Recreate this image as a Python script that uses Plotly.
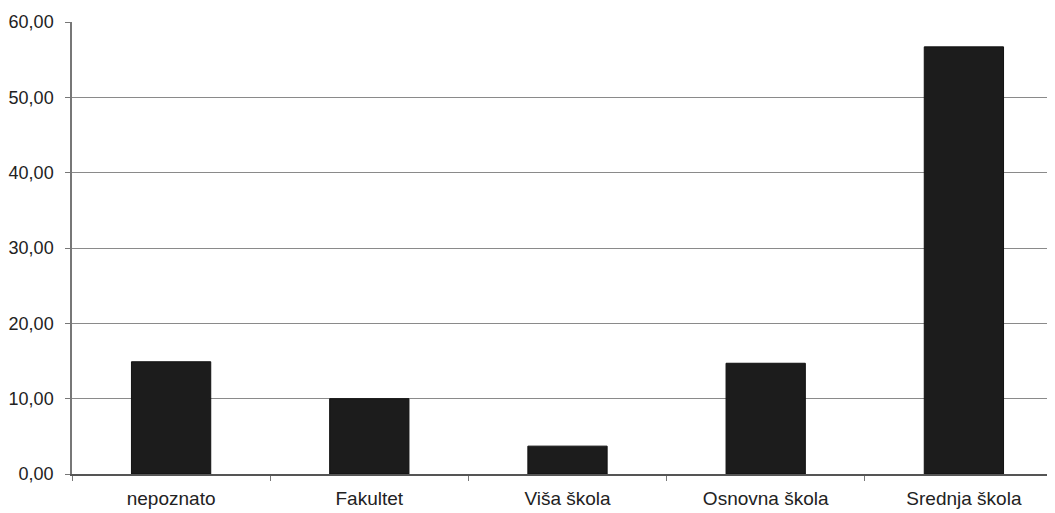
import plotly.graph_objects as go

categories = ["nepoznato", "Fakultet", "Viša škola", "Osnovna škola", "Srednja škola"]
values = [14.9, 10.0, 3.7, 14.7, 56.7]
y_tickvals = [0, 10, 20, 30, 40, 50, 60]
y_ticktext = ["0,00", "10,00", "20,00", "30,00", "40,00", "50,00", "60,00"]

fig = go.Figure()
fig.add_trace(go.Bar(
    x=categories, y=values,
    marker=dict(color="#1c1c1c", line=dict(color="#111111", width=1)),
    width=0.40,
))

fig.update_layout(
    width=1055, height=513,
    margin=dict(l=64, r=0, t=14, b=47),
    paper_bgcolor="white", plot_bgcolor="white",
    showlegend=False,
    font=dict(family="Liberation Sans, Arial, sans-serif", size=18, color="#222222"),
)
fig.update_xaxes(
    type="category",
    range=[-0.5, 4.5],
    showline=True, linecolor="#555555", linewidth=1.5,
    ticks="outside", tickson="boundaries", ticklen=5, tickcolor="#777777",
    showgrid=False,
    ticklabelstandoff=6,
    tickfont=dict(size=19, color="#222222"),
)
fig.update_yaxes(
    range=[0, 60],
    tickvals=y_tickvals, ticktext=y_ticktext,
    showline=True, linecolor="#777777", linewidth=1.5,
    ticks="outside", ticklen=5, tickcolor="#777777",
    showgrid=True, gridcolor="#8a8a8a", gridwidth=1.2,
    zeroline=False,
    ticklabelstandoff=8,
    tickfont=dict(size=18, color="#222222"),
)

fig.write_html("out.html")
